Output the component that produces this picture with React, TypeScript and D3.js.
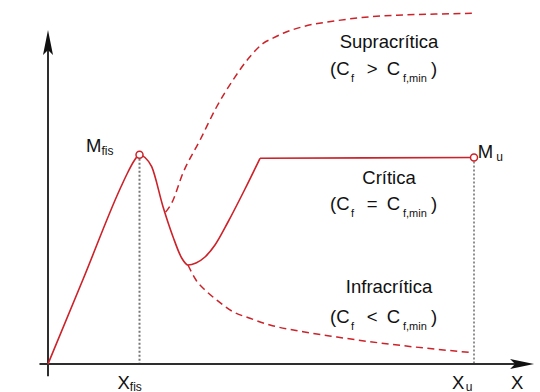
import React from "react";
import * as d3 from "d3";

// Critical curve (solid): [x, M]
const criticalX = [0, 8.45, 16.9, 18.78, 20.19, 21.48, 22.77, 24.34, 27.0, 29.34, 31.38, 32.86, 34.74, 36.85, 39.2, 42.25, 46.24, 49.77, 75, 100];
const criticalY = [0, 24.86, 50, 54.86, 58.0, 59.8, 59.0, 56.37, 44.94, 36.37, 30.29, 28.29, 28.86, 30.57, 34.0, 40.57, 50.0, 58.77, 58.9, 59.0];
// x where the critical curve reaches its plateau
const criticalKnee = 49.77;

// Supracritical branch (dashed)
const supraX = [27.6, 29.0, 31.7, 35.7, 39.6, 43.4, 47.4, 50.5, 52.8, 55.2, 59.9, 67.8, 75.6, 83.3, 91.3, 99.5];
const supraY = [43.4, 45.9, 54.6, 64.0, 73.5, 81.1, 87.8, 91.6, 93.1, 94.5, 96.4, 98.1, 99.2, 99.7, 100.0, 100.2];

// Infracritical branch (dashed)
const infraX = [32.86, 34.74, 36.85, 39.6, 43.43, 47.42, 52.11, 59.86, 67.84, 75.59, 83.33, 91.31, 99.77];
const infraY = [28.29, 24.0, 21.14, 18.29, 14.94, 13.06, 11.14, 9.23, 7.71, 6.37, 5.23, 4.2, 3.23];

// Key points
const Xfis = 21.48;
const Mfis = 59.8;
const Xu = 100;
const Mu = 59.0;

const regionNames = ["Supracrítica", "Crítica", "Infracrítica"];
const regionOps = [">", "=", "<"];

const W = 540;
const H = 392;
const RED = "#cc2229";
const AX = "#2e2e2e";
const FONT = "'Liberation Sans', Arial, Helvetica, sans-serif";

const xs = d3.scaleLinear().domain([0, 100]).range([48, 474]);
const ys = d3.scaleLinear().domain([0, 100]).range([364, 14]);

const zip = (a: number[], b: number[]) => a.map((v, i) => [v, b[i]] as [number, number]);

const line = d3
  .line<[number, number]>()
  .x((d) => xs(d[0]))
  .y((d) => ys(d[1]))
  .curve(d3.curveMonotoneX);

const lineLinear = d3
  .line<[number, number]>()
  .x((d) => xs(d[0]))
  .y((d) => ys(d[1]));

function Formula({ cx, y, op }: { cx: number; y: number; op: string }) {
  const fs = 18.5;
  const sub = 11;
  return (
    <text y={y} fontFamily={FONT} fontSize={fs} fill="#111">
      <tspan x={cx - 59}>(C</tspan>
      <tspan x={cx - 38} dy={7} fontSize={sub}>f</tspan>
      <tspan x={cx - 22.3} dy={-7}>{op}</tspan>
      <tspan x={cx - 2.3}>C</tspan>
      <tspan x={cx + 14} dy={7} fontSize={sub}>f,min</tspan>
      <tspan x={cx + 42} dy={-7}>)</tspan>
    </text>
  );
}

export default function App() {
  const ox = xs(0);
  const oy = ys(0);
  const xEnd = xs(114.1);
  const yEnd = ys(95.4);
  const xStart = xs(-2);
  const yStart = ys(-3.5);

  const px = xs(Xfis);
  const py = ys(Mfis);
  const ux = xs(Xu);
  const uy = ys(Mu);

  const labelX = 389;
  const nameY = [47.5, 184, 293.3];
  const formY = [75, 210, 323.3];

  const crit = zip(criticalX, criticalY);
  const critCurve = crit.filter((d) => d[0] <= criticalKnee);
  const critFlat = crit.filter((d) => d[0] >= criticalKnee);

  return (
    <svg
      width={W}
      height={H}
      style={{ position: "absolute", left: 0, top: 0, background: "#fff" }}
    >
      {/* guide lines */}
      <line x1={px} x2={px} y1={py + 4} y2={oy} stroke="#777" strokeWidth={2} strokeDasharray="2,2" />
      <line x1={ux} x2={ux} y1={uy + 4} y2={oy} stroke="#222" strokeWidth={1} strokeDasharray="2,2" />

      {/* axes */}
      <line x1={ox} x2={ox} y1={yStart} y2={yEnd + 12} stroke={AX} strokeWidth={2} />
      <line x1={xStart} x2={xEnd - 12} y1={oy} y2={oy} stroke={AX} strokeWidth={2} />
      <path
        d={`M${ox},${yEnd} L${ox + 5},${yEnd + 25} L${ox},${yEnd + 20} L${ox - 5},${yEnd + 25} Z`}
        fill="#111"
      />
      <path
        d={`M${xEnd},${oy} L${xEnd - 24},${oy - 5} L${xEnd - 19},${oy} L${xEnd - 24},${oy + 5} Z`}
        fill="#111"
      />

      {/* curves */}
      <path d={line(zip(supraX, supraY)) || ""} fill="none" stroke={RED} strokeWidth={1.5} strokeDasharray="7,4.5" />
      <path d={line(zip(infraX, infraY)) || ""} fill="none" stroke={RED} strokeWidth={1.5} strokeDasharray="7,4.5" />
      <path d={line(critCurve) || ""} fill="none" stroke={RED} strokeWidth={1.6} strokeLinejoin="round" />
      <path d={lineLinear(critFlat) || ""} fill="none" stroke={RED} strokeWidth={1.6} strokeLinejoin="round" />

      <circle cx={px} cy={py} r={3.5} fill="#fff" stroke={RED} strokeWidth={1.5} />
      <circle cx={ux} cy={uy} r={3.5} fill="#fff" stroke={RED} strokeWidth={1.5} />

      {/* point labels */}
      <text x={px - 53.5} y={py - 2.5} fontFamily={FONT} fontSize={18.5} fill="#111">
        M<tspan fontSize={12} dy={3}>fis</tspan>
      </text>
      <text x={ux + 3.8} y={uy + 0.6} fontFamily={FONT} fontSize={18.5} fill="#111">
        M<tspan fontSize={12} dx={3} dy={3}>u</tspan>
      </text>
      <text x={px - 22} y={389} fontFamily={FONT} fontSize={18.5} fill="#111">
        X<tspan fontSize={12} dy={1.5}>fis</tspan>
      </text>
      <text x={ux - 22} y={389} fontFamily={FONT} fontSize={18.5} fill="#111">
        X<tspan fontSize={12} dx={1.5} dy={1.5}>u</tspan>
      </text>
      <text x={xEnd - 23} y={389} fontFamily={FONT} fontSize={18.5} fill="#111">
        X
      </text>

      {/* region labels */}
      {regionNames.map((n, i) => (
        <g key={n}>
          <text x={labelX} y={nameY[i]} textAnchor="middle" fontFamily={FONT} fontSize={18.5} fill="#111">
            {n}
          </text>
          <Formula cx={labelX} y={formY[i]} op={regionOps[i]} />
        </g>
      ))}
    </svg>
  );
}
